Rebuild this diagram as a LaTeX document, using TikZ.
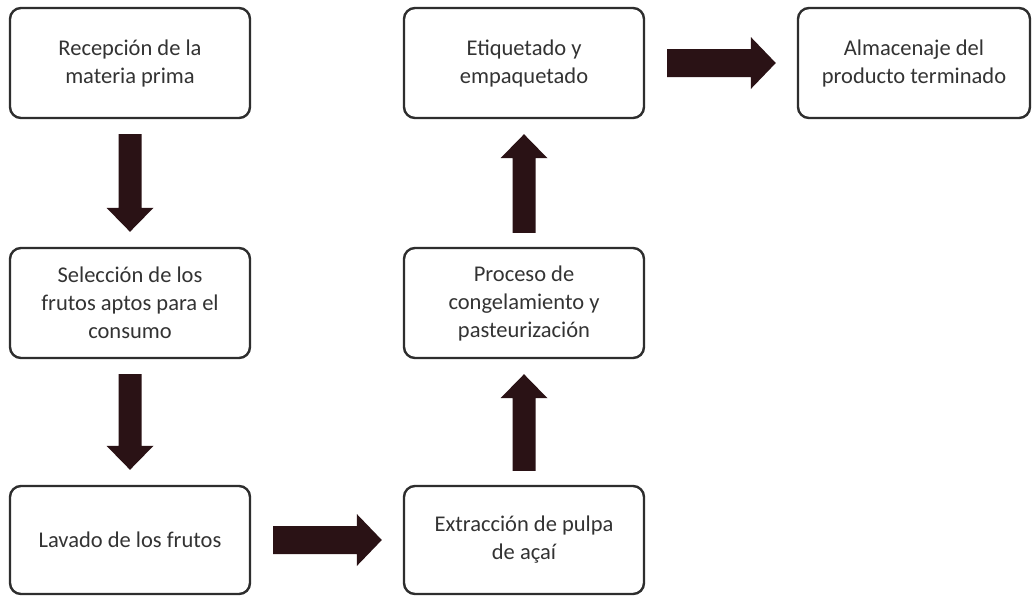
\documentclass[tikz,border=0pt]{standalone}
\usepackage{fontspec}
\setmainfont{Carlito}
\usetikzlibrary{calc}
\definecolor{boxline}{HTML}{2E2E2E}
\definecolor{txt}{HTML}{333333}
\definecolor{arr}{HTML}{2A1215}
\begin{document}
\begin{tikzpicture}[x=1pt,y=1pt,
  box/.style={draw=boxline, line width=2.4pt, rounded corners=11pt,
    minimum width=240pt, minimum height=110pt, align=center, text=txt,
    font=\fontsize{22.5}{28}\selectfont, inner sep=0pt},
  arrowfill/.style={fill=arr}]
\fill[white] (0,0) rectangle (1032,-595);
\useasboundingbox (0,0) rectangle (1032,-595);

\node[box] (r1) at (130,-63) {Recepción de la\\materia prima};
\node[box] (r2) at (130,-303) {Selección de los\\frutos aptos para el\\consumo};
\node[box, minimum height=108pt] (r3) at (130,-540) {Lavado de los frutos};
\node[box, minimum height=108pt] (r4) at (524,-540) {Extracción de pulpa\\de açaí};
\node[box] (r5) at (524,-303) {Proceso de\\congelamiento y\\pasteurización};
\node[box] (r6) at (524,-63) {Etiquetado y\\empaquetado};
\node[box, minimum width=232pt] (r7) at (914,-63) {Almacenaje del\\producto terminado};

% down arrows
\foreach \a/\b in {r1/r2, r2/r3}{
  \fill[arrowfill] let \p1=(\a.south), \p2=(\b.north) in
    (\x1-11.5pt,\y1-15pt) -- (\x1+11.5pt,\y1-15pt) -- (\x1+11.5pt,\y2+39pt)
    -- (\x1+23.5pt,\y2+39pt) -- (\x1,\y2+15pt) -- (\x1-23.5pt,\y2+39pt)
    -- (\x1-11.5pt,\y2+39pt) -- cycle;
}
% up arrows
\foreach \a/\b in {r4/r5, r5/r6}{
  \fill[arrowfill] let \p1=(\a.north), \p2=(\b.south) in
    (\x1-11.5pt,\y1+14pt) -- (\x1+11.5pt,\y1+14pt) -- (\x1+11.5pt,\y2-39pt)
    -- (\x1+23.5pt,\y2-39pt) -- (\x1,\y2-15pt) -- (\x1-23.5pt,\y2-39pt)
    -- (\x1-11.5pt,\y2-39pt) -- cycle;
}
% right arrows
\foreach \a/\b in {r3/r4, r6/r7}{
  \fill[arrowfill] let \p1=(\a.east), \p2=(\b.west) in
    (\x1+22pt,\y1+14pt) -- (\x2-46pt,\y1+14pt) -- (\x2-46pt,\y1+26pt)
    -- (\x2-21pt,\y1) -- (\x2-46pt,\y1-26pt) -- (\x2-46pt,\y1-14pt)
    -- (\x1+22pt,\y1-14pt) -- cycle;
}
\end{tikzpicture}
\end{document}
